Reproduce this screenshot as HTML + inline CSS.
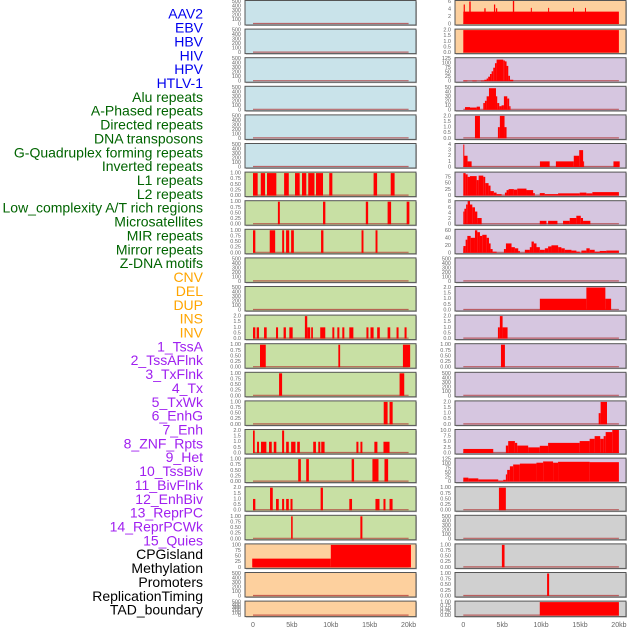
<!DOCTYPE html>
<html><head><meta charset="utf-8"><style>
html,body{margin:0;padding:0;background:#fff;}
svg{display:block;font-family:"Liberation Sans",sans-serif;}
</style></head><body>
<svg id="chart" width="630" height="630" viewBox="0 0 630 630" xmlns="http://www.w3.org/2000/svg"></svg>
<script>
const labels=["AAV2","EBV","HBV","HIV","HPV","HTLV-1","Alu repeats","A-Phased repeats","Directed repeats","DNA transposons","G-Quadruplex forming repeats","Inverted repeats","L1 repeats","L2 repeats","Low_complexity A/T rich regions","Microsatellites","MIR repeats","Mirror repeats","Z-DNA motifs","CNV","DEL","DUP","INS","INV","1_TssA","2_TssAFlnk","3_TxFlnk","4_Tx","5_TxWk","6_EnhG","7_Enh","8_ZNF_Rpts","9_Het","10_TssBiv","11_BivFlnk","12_EnhBiv","13_ReprPC","14_ReprPCWk","15_Quies","CPGisland","Methylation","Promoters","ReplicationTiming","TAD_boundary"];
const labelColors=["#0000ee","#0000ee","#0000ee","#0000ee","#0000ee","#0000ee","#006400","#006400","#006400","#006400","#006400","#006400","#006400","#006400","#006400","#006400","#006400","#006400","#006400","#ffa500","#ffa500","#ffa500","#ffa500","#ffa500","#a020f0","#a020f0","#a020f0","#a020f0","#a020f0","#a020f0","#a020f0","#a020f0","#a020f0","#a020f0","#a020f0","#a020f0","#a020f0","#a020f0","#a020f0","#000","#000","#000","#000","#000"];
const xTicks=[0,5,10,15,20];
const xTickLabels=["0","5kb","10kb","15kb","20kb"];
const T500=[0,100,200,300,400,500], T1=[0,0.25,0.5,0.75,1], T2=[0,0.5,1,1.5,2];
const leftTicks=[T500,T500,T500,T500,T500,T500,T1,T1,T1,T500,T500,T2,T1,T1,T1,T2,T1,T2,T1,[0,25,50,75,100],T500,T500];
const rightTicks=[[0,2,4,6],T2,[0,25,50,75,100,125],[0,10,20,30,40,50],T2,[0,1,2,3,4],[0,25,50,75],[0,2,4,6,8],[0,20,40,60],T500,T2,T2,T1,T500,T2,[0,2.5,5,7.5,10],[0,25,50,75,100,125],T1,T500,T1,T1,T1];
const leftMax=[500,500,500,500,500,500,1,1,1,500,500,2,1,1,1,2,1,2,1,100,500,500];
const rightMax=[6,2,125,50,2,4,90,8,60,500,2,2,1,500,2,10,125,1,500,1,1,1];
const leftBg=["#c9e3ea","#c9e3ea","#c9e3ea","#c9e3ea","#c9e3ea","#c9e3ea","#c8e0a4","#c8e0a4","#c8e0a4","#c8e0a4","#c8e0a4","#c8e0a4","#c8e0a4","#c8e0a4","#c8e0a4","#c8e0a4","#c8e0a4","#c8e0a4","#c8e0a4","#fdd09e","#fdd09e","#fdd09e"];
const rightBg=["#fdd09e","#fdd09e","#d6c6e0","#d6c6e0","#d6c6e0","#d6c6e0","#d6c6e0","#d6c6e0","#d6c6e0","#d6c6e0","#d6c6e0","#d6c6e0","#d6c6e0","#d6c6e0","#d6c6e0","#d6c6e0","#d6c6e0","#d0d0d0","#d0d0d0","#d0d0d0","#d0d0d0","#d0d0d0"];
const leftBars=[[],[],[],[],[],[],
[[0,0.6,1],[1.0,1.55,1],[1.8,3.0,1],[4.0,4.6,1],[5.4,6.0,1],[6.3,6.85,1],[7.1,7.9,1],[8.1,9.0,1],[9.8,10.2,1],[15.5,15.95,1],[17.7,18.2,1]],
[[3.2,3.45,1],[9.0,9.3,1],[14.5,14.8,1],[17.3,17.75,1],[19.75,20.1,1]],
[[0,0.3,1],[2.15,2.85,1],[3.75,4.0,1],[4.25,4.65,1],[4.9,5.25,1],[8.75,9.05,1],[13.95,14.2,1],[15.75,16.0,1]],
[],[],
[[0,0.3,1],[0.47,0.77,1],[1.42,1.76,1],[2.96,3.22,1],[3.93,4.23,1],[4.67,5.1,1],[6.67,6.97,2],[6.97,7.35,1],[7.48,7.7,1],[8.64,9.29,1],[10.2,10.45,1],[10.84,11.1,1],[11.48,11.74,1],[12.38,12.9,1],[14.58,14.84,1],[15.1,15.5,1],[15.96,16.3,1],[17.3,17.64,1],[18.45,18.71,1],[19.48,19.74,1]],
[[0.9,1.64,1],[10.97,11.2,1],[19.27,20.2,1]],
[[3.35,3.74,1],[18.84,19.44,1]],
[[16.8,17.3,1],[17.55,17.95,1]],
[[0,0.22,2],[0.52,0.77,1],[1.03,1.72,1],[2.06,2.41,1],[2.67,3.0,1],[3.74,4.0,2],[4.26,4.6,1],[4.9,5.46,1],[5.68,6.02,1],[7.74,8.09,1],[8.39,8.65,1],[8.77,9.2,1],[13.29,13.55,1],[13.81,14.06,1],[15.6,15.99,1],[16.77,17.55,1]],
[[5.81,6.15,1],[6.84,7.18,1],[12.68,12.99,1],[15.35,16.13,1],[16.9,17.37,1]],
[[0,0.3,1],[2.19,2.54,2],[2.96,3.31,1],[3.74,4.0,1],[4.26,4.6,1],[4.82,5.08,1],[8.69,8.99,2],[12.38,12.73,1],[15.74,16.26,1],[16.77,17.03,1],[17.55,17.94,1]],
[[4.9,5.1,1],[13.8,14.06,1]],
[[-0.1,10,39],[10,20.3,100]],
[],[]];
const rightBars=[
[[0,20,3.3],[0.05,0.2,5.2],[0.77,0.95,6],[2.7,2.87,4.2],[3.94,4.1,5.2],[4.2,4.36,4.2],[6.37,6.54,6.3],[8.68,8.8,4.3],[10.9,11.03,4.3],[14.1,14.23,4.3],[15.64,15.77,4.3]],
[[0,20,2]],
[[0,0.52,3],[1.16,1.72,3],[2.27,2.7,3],[2.7,3.0,8],[3.0,3.2,15],[3.2,3.43,25],[3.43,3.64,40],[3.64,3.85,55],[3.85,4.07,75],[4.07,4.28,100],[4.28,5.14,120],[5.14,5.35,115],[5.35,5.56,110],[5.56,5.78,85],[5.78,6.0,30],[6.0,6.42,8]],
[[0.22,0.86,6],[0.86,1.72,5],[1.72,2.14,7],[2.57,2.78,15],[2.78,3.0,20],[3.0,3.3,30],[3.3,4.2,48],[4.2,4.36,30],[4.36,4.62,15],[4.62,4.92,8],[4.92,5.22,10],[5.22,5.65,30],[5.65,5.9,25],[5.9,6.07,8]],
[[1.5,2.14,2],[4.45,4.7,1],[4.7,5.3,2],[5.3,5.56,1]],
[[0,0.05,4],[0.05,0.55,2],[0.55,1.07,1],[9.85,11.1,1],[11.9,14.2,1],[14.2,14.9,2],[14.9,15.4,3],[15.4,15.5,1],[19.3,20.1,1]],
[[0,0.3,90],[0.3,0.56,85],[0.56,0.86,75],[0.86,1.72,78],[1.72,1.97,62],[1.97,2.57,80],[2.57,2.82,75],[2.82,3.25,50],[3.25,3.5,40],[3.5,3.93,18],[3.93,4.28,12],[4.28,4.92,6],[5.35,5.56,12],[5.56,5.82,22],[5.82,6.5,26],[6.5,6.93,24],[6.93,8.12,28],[8.12,8.98,22],[8.98,9.19,10],[9.83,10.47,10],[10.47,12.18,6],[12.18,14.96,9],[14.96,15.82,12],[15.82,16.59,9],[16.59,20.0,14]],
[[0,0.14,4.5],[0.14,0.36,5.5],[0.36,0.56,7],[0.56,0.86,8.5],[0.86,1.16,7],[1.16,1.5,6],[1.5,1.8,4.5],[1.8,2.36,2.2],[9.83,10.69,1.2],[10.9,12.1,1.2],[12.82,13.68,1.2],[13.68,14.53,2.2],[14.53,15.1,3],[15.1,15.39,2.2],[15.39,16.33,1.2]],
[[0,0.01,12],[0.01,0.3,18],[0.3,0.52,35],[0.52,0.95,45],[0.95,1.5,40],[1.5,1.8,60],[1.8,2.14,55],[2.14,2.44,45],[2.44,3.0,48],[3.0,3.3,40],[3.3,3.51,25],[3.51,3.77,10],[3.77,4.28,3],[5.22,5.48,10],[5.48,6.2,25],[6.2,6.63,15],[6.63,7.06,12],[7.06,7.27,5],[7.91,8.55,8],[8.55,8.77,15],[8.77,9.07,30],[9.07,9.41,25],[9.41,9.84,15],[9.84,10.48,8],[10.48,10.9,12],[10.9,11.33,17],[11.33,12.19,20],[12.19,12.61,15],[12.61,13.04,12],[13.04,13.9,8],[13.9,14.54,6],[14.54,14.97,3],[15.18,15.82,6],[15.82,16.25,12],[16.25,16.89,8],[16.89,17.53,3],[17.53,18.38,5],[18.38,20.0,6]],
[],
[[9.84,15.82,1],[15.82,18.26,2],[18.26,19.0,1]],
[[4.45,4.7,1],[4.7,5.05,2],[5.05,5.69,1]],
[[4.84,5.35,1]],
[],
[[17.4,17.65,1],[17.65,18.47,2]],
[[0,3.85,1.8],[5.47,5.77,3.3],[5.77,6.63,5.3],[6.63,6.93,4.5],[6.93,8.34,3.3],[8.34,9.83,2.5],[9.83,10.9,3.2],[10.9,14.96,4.5],[14.96,16.24,5.3],[16.24,16.88,6.3],[16.88,17.6,7.5],[17.6,18.04,6.3],[18.04,18.3,7.5],[18.3,19.15,9.3],[19.15,20.0,10.5]],
[[0,0.65,22],[0.65,1.93,18],[1.93,4.49,12],[4.49,5.13,5],[5.13,5.47,10],[5.47,5.64,40],[5.64,5.99,65],[5.99,6.41,85],[6.41,7.27,95],[7.27,9.4,100],[9.4,10.26,105],[10.26,11.54,112],[11.54,12.18,105],[12.18,16.24,110],[16.24,20.0,108]],
[[4.58,5.47,1]],
[],
[[4.96,5.3,1]],
[[10.77,11.03,1]],
[[9.83,20.0,1]]];

const NS="http://www.w3.org/2000/svg";
const svg=document.getElementById('chart');
function mk(tag,attrs,parent){const e=document.createElementNS(NS,tag);for(const k in attrs)e.setAttribute(k,attrs[k]);(parent||svg).appendChild(e);return e;}
function fmt(v,ticks){const mx=ticks[ticks.length-1];const st=ticks[1]-ticks[0];if(st===0.25)return v.toFixed(2);if(st===0.5)return v.toFixed(1);if(st===2.5)return v.toFixed(1);return String(v);}

// labels
labels.forEach((t,i)=>{
  const e=mk('text',{x:203,y:15+i*13.86,'text-anchor':'end','dominant-baseline':'middle','font-size':14,fill:labelColors[i]});
  e.textContent=t;
  
  
});

function rowTop(i){return i*28.6+0.5;}
function rowH(i){return i===21?15.5:24.5;}

function drawPanel(col,i,bars,ymax,ticks,bg){
  const px0=col===0?245:455, pw=171;
  const x0kb=col===0?253:463.3, sc=7.78;
  const xs=kb=>x0kb+kb*sc;
  const top=rowTop(i), h=rowH(i);
  const yb=top+h-1, yt=top+1;
  const ys=v=>yb-(v/ymax)*(yb-yt);
  const g=mk('g',{});
  
  
  mk('rect',{x:px0+1,y:top+1,width:pw,height:h,fill:'#bbb'},g);
  mk('rect',{x:px0,y:top,width:pw,height:h,fill:bg},g);
  const cid='clip'+col+'_'+i;
  const cp=mk('clipPath',{id:cid},g);mk('rect',{x:px0,y:top,width:pw,height:h},cp);
  const bg2=mk('g',{'clip-path':'url(#'+cid+')'},g);
  mk('line',{x1:xs(0),x2:xs(20),y1:yb-0.5,y2:yb-0.5,stroke:'#b03030','stroke-width':1.2,opacity:0.7},bg2);
  bars.forEach(b=>{
    const x1=xs(b[0]),x2=xs(b[1]);
    const r=mk('rect',{x:x1,y:ys(b[2]),width:Math.max(1,x2-x1),height:yb-ys(b[2]),fill:'#ff0000'},bg2);
    
    
  });
  mk('rect',{x:px0,y:top,width:pw,height:h,fill:'none',stroke:'#555','stroke-width':1},g);
  const tmax=ticks[ticks.length-1];
  ticks.forEach(v=>{
    const t=mk('text',{x:px0-4,y:ys(v*ymax/Math.max(ymax,tmax)*(Math.max(ymax,tmax)/ymax)),'text-anchor':'end','dominant-baseline':'middle','font-size':5.5,fill:'#666'},g);
    t.textContent=fmt(v,ticks);
    
    
  });
}
for(let i=0;i<22;i++){
  drawPanel(0,i,leftBars[i],leftMax[i],leftTicks[i],leftBg[i]);
  drawPanel(1,i,rightBars[i],rightMax[i],rightTicks[i],rightBg[i]);
}
[253,463.3].forEach((x0,c)=>{
  xTicks.forEach((v,k)=>{
    const t=mk('text',{x:x0+v*7.78,y:627,'text-anchor':'middle','font-size':7,fill:'#666'});
    t.textContent=xTickLabels[k];
    
    
  });
});
</script>
</body></html>
